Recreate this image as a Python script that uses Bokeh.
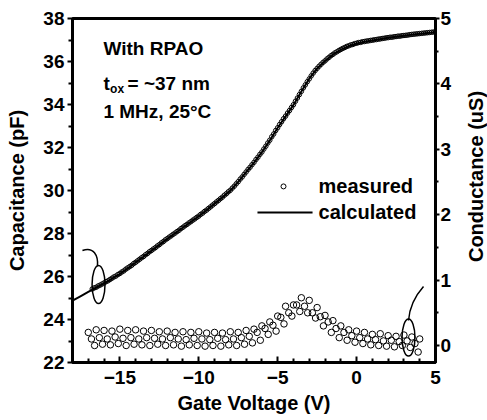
import math
from bokeh.plotting import figure
from bokeh.layouts import row
from bokeh.models import Range1d, LinearAxis, FixedTicker, Label
from bokeh.core.properties import value
from bokeh.embed import file_html
from bokeh.resources import INLINE

# ---------------- data ----------------
calc_v = [-18.0, -17.5, -17.0, -16.5, -16.0, -15.5, -15.0, -14.5, -14.0, -13.5, -13.0, -12.5,
          -12.0, -11.5, -11.0, -10.5, -10.0, -9.5, -9.0, -8.5, -8.0, -7.5, -7.0, -6.5, -6.0,
          -5.5, -5.0, -4.5, -4.0, -3.5, -3.0, -2.5, -2.0, -1.5, -1.0, -0.5, 0.0, 0.5, 1.0,
          1.5, 2.0, 2.5, 3.0, 3.5, 4.0, 4.5, 5.0]
calc_c = [24.88, 25.08, 25.28, 25.48, 25.68, 25.90, 26.12, 26.38, 26.65, 26.92, 27.20, 27.47,
          27.75, 28.01, 28.28, 28.54, 28.80, 29.08, 29.38, 29.68, 30.00, 30.40, 30.85, 31.30,
          31.78, 32.33, 32.92, 33.45, 33.98, 34.60, 35.20, 35.68, 36.02, 36.32, 36.55, 36.72,
          36.84, 36.92, 36.98, 37.04, 37.10, 37.15, 37.20, 37.25, 37.29, 37.33, 37.37]

meas_v = [-16.75, -16.5, -16.25, -16.0, -15.75, -15.5, -15.25, -15.0, -14.75, -14.5, -14.25,
          -14.0, -13.75, -13.5, -13.25, -13.0, -12.75, -12.5, -12.25, -12.0, -11.75, -11.5,
          -11.25, -11.0, -10.75, -10.5, -10.25, -10.0, -9.75, -9.5, -9.25, -9.0, -8.75, -8.5,
          -8.25, -8.0, -7.75, -7.5, -7.25, -7.0, -6.75, -6.5, -6.25, -6.0, -5.75, -5.5, -5.25,
          -5.0, -4.75, -4.5, -4.25, -4.0, -3.75, -3.5, -3.25, -3.0, -2.75, -2.5, -2.25, -2.0,
          -1.75, -1.5, -1.25, -1.0, -0.75, -0.5, -0.25, 0.0, 0.25, 0.5, 0.75, 1.0, 1.25, 1.5,
          1.75, 2.0, 2.25, 2.5, 2.75, 3.0, 3.25, 3.5, 3.75, 4.0, 4.25, 4.5, 4.75, 5.0]
meas_c = [25.42, 25.50, 25.60, 25.70, 25.80, 25.92, 26.02, 26.14, 26.26, 26.40, 26.52,
          26.66, 26.80, 26.93, 27.07, 27.21, 27.34, 27.48, 27.62, 27.76, 27.89, 28.02,
          28.15, 28.29, 28.42, 28.55, 28.68, 28.81, 28.95, 29.09, 29.24, 29.39, 29.54, 29.69,
          29.85, 30.01, 30.20, 30.41, 30.63, 30.86, 31.08, 31.31, 31.55, 31.79, 32.06, 32.34,
          32.63, 32.92, 33.20, 33.46, 33.72, 33.99, 34.30, 34.61, 34.91, 35.19, 35.46, 35.68,
          35.87, 36.03, 36.19, 36.33, 36.45, 36.56, 36.65, 36.73, 36.79, 36.85, 36.89, 36.93,
          36.96, 36.99, 37.02, 37.05, 37.08, 37.11, 37.13, 37.16, 37.18, 37.21, 37.23, 37.26,
          37.28, 37.30, 37.32, 37.34, 37.36, 37.38]
# second measured sweep
meas2_v = [-16.625, -16.375, -16.125, -15.875, -15.625, -15.375, -15.125, -14.875, -14.625,
           -14.375, -14.125, -13.875, -13.625, -13.375, -13.125, -12.875, -12.625, -12.375,
           -12.125, -11.875, -11.625, -11.375, -11.125, -10.875, -10.625, -10.375, -10.125,
           -9.875, -9.625, -9.375, -9.125, -8.875, -8.625, -8.375, -8.125, -7.875, -7.625,
           -7.375, -7.125, -6.875, -6.625, -6.375, -6.125, -5.875, -5.625, -5.375, -5.125,
           -4.875, -4.625, -4.375, -4.125, -3.875, -3.625, -3.375, -3.125, -2.875, -2.625,
           -2.375, -2.125, -1.875, -1.625, -1.375, -1.125, -0.875, -0.625, -0.375, -0.125,
           0.125, 0.375, 0.625, 0.875, 1.125, 1.375, 1.625, 1.875, 2.125, 2.375, 2.625, 2.875,
           3.125, 3.375, 3.625, 3.875, 4.125, 4.375, 4.625, 4.875]
meas2_c = [25.47, 25.56, 25.65, 25.76, 25.86, 25.98, 26.09, 26.21, 26.34,
           26.46, 26.60, 26.73, 26.87, 27.01, 27.15, 27.28, 27.42, 27.56,
           27.70, 27.83, 27.96, 28.09, 28.23, 28.36, 28.49, 28.62, 28.75,
           28.89, 29.03, 29.17, 29.32, 29.47, 29.62, 29.78, 29.94, 30.11, 30.31,
           30.53, 30.75, 30.98, 31.20, 31.44, 31.68, 31.93, 32.21, 32.50, 32.79,
           33.07, 33.34, 33.60, 33.86, 34.15, 34.46, 34.77, 35.06, 35.33, 35.58,
           35.78, 35.96, 36.12, 36.27, 36.40, 36.51, 36.61, 36.70, 36.77, 36.83,
           36.88, 36.92, 36.95, 36.98, 37.01, 37.04, 37.07, 37.10, 37.13, 37.15, 37.18, 37.20,
           37.22, 37.25, 37.27, 37.29, 37.31, 37.33, 37.35, 37.37]

# conductance (uS), measured points in three interleaved sweeps
g1_v = [-17.0, -16.5, -16.0, -15.5, -15.0, -14.5, -14.0, -13.5, -13.0, -12.5, -12.0, -11.5,
        -11.0, -10.5, -10.0, -9.5, -9.0, -8.5, -8.0, -7.5, -7.0, -6.5, -6.0, -5.5, -5.0,
        -4.5, -4.0, -3.5, -3.0, -2.5, -2.0, -1.5, -1.0, -0.5, 0.0, 0.5, 1.0, 1.5, 2.0, 2.5,
        3.0, 3.5, 4.0]
g1 = [0.20, 0.24, 0.23, 0.22, 0.25, 0.23, 0.24, 0.22, 0.23, 0.21, 0.22, 0.20,
      0.21, 0.20, 0.21, 0.19, 0.20, 0.19, 0.21, 0.20, 0.23, 0.25, 0.30, 0.36, 0.45,
      0.60, 0.62, 0.73, 0.69, 0.58, 0.46, 0.38, 0.30, 0.24, 0.22, 0.20, 0.17, 0.18, 0.15, 0.14,
      0.16, 0.13, 0.10]
g2_v = [-16.8, -16.3, -15.8, -15.3, -14.8, -14.3, -13.8, -13.3, -12.8, -12.3, -11.8, -11.3,
        -10.8, -10.3, -9.8, -9.3, -8.8, -8.3, -7.8, -7.3, -6.8, -6.3, -5.8, -5.3, -4.8,
        -4.3, -3.8, -3.3, -2.8, -2.3, -1.8, -1.3, -0.8, -0.3, 0.2, 0.7, 1.2, 1.7, 2.2, 2.7,
        3.2, 3.7]
g2 = [0.10, 0.12, 0.10, 0.13, 0.11, 0.12, 0.10, 0.12, 0.11, 0.10, 0.12, 0.10,
      0.09, 0.11, 0.10, 0.09, 0.11, 0.09, 0.10, 0.12, 0.14, 0.20, 0.26, 0.31, 0.43,
      0.50, 0.62, 0.60, 0.50, 0.44, 0.36, 0.26, 0.20, 0.15, 0.12, 0.10, 0.09, 0.07, 0.08, 0.06,
      0.07, 0.03]
g3_v = [-16.6, -16.1, -15.6, -15.1, -14.6, -14.1, -13.6, -13.1, -12.6, -12.1, -11.6, -11.1,
        -10.6, -10.1, -9.6, -9.1, -8.6, -8.1, -7.6, -7.1, -6.6, -6.1, -5.6, -5.1, -4.6,
        -4.1, -3.6, -3.1, -2.6, -2.1, -1.6, -1.1, -0.6, -0.1, 0.4, 0.9, 1.4, 1.9, 2.4, 2.9,
        3.4, 3.9]
g3 = [0.00, 0.02, 0.01, 0.03, 0.00, 0.02, 0.01, 0.00, 0.02, 0.00, 0.01, -0.01,
      0.01, 0.00, -0.01, 0.00, -0.01, 0.01, 0.00, 0.02, 0.04, 0.08, 0.17, 0.22, 0.33,
      0.45, 0.52, 0.50, 0.42, 0.30, 0.20, 0.12, 0.08, 0.05, 0.03, 0.01, 0.00, -0.01, -0.02, 0.00,
      -0.03, -0.10]

x_major = [-15, -10, -5, 0, 5]
x_minor = [-17, -16, -14, -13, -12, -11, -9, -8, -7, -6, -4, -3, -2, -1, 1, 2, 3, 4]
c_major = [22, 24, 26, 28, 30, 32, 34, 36, 38]
c_minor = [23, 25, 27, 29, 31, 33, 35, 37]
g_major = [0, 1, 2, 3, 4, 5]
g_minor = [0.5, 1.5, 2.5, 3.5, 4.5]

FONT = "Liberation Sans"
H = 418

p = figure(width=463, height=H, output_backend="svg", toolbar_location=None,
           x_range=Range1d(-18, 5), y_range=Range1d(22, 38),
           min_border_left=72, min_border_right=28, min_border_top=18, min_border_bottom=56)
p.extra_y_ranges = {"g": Range1d(-0.26, 5.0)}
p.xgrid.visible = False
p.ygrid.visible = False
p.outline_line_color = "black"
p.outline_line_width = 3
p.background_fill_color = "white"
p.border_fill_color = "white"

def style(ax, tin, tout, standoff):
    ax.axis_line_width = 3
    ax.axis_line_color = "black"
    ax.major_tick_line_width = 2
    ax.minor_tick_line_width = 2
    ax.major_tick_in = tin[0]
    ax.major_tick_out = tout[0]
    ax.minor_tick_in = tin[1]
    ax.minor_tick_out = tout[1]
    ax.major_label_text_font = FONT
    ax.major_label_text_font_style = "bold"
    ax.major_label_text_font_size = "19px"
    ax.major_label_text_color = "black"
    ax.major_label_standoff = standoff
    ax.axis_label_text_font = FONT
    ax.axis_label_text_font_style = "bold"
    ax.axis_label_text_font_size = "20px"
    ax.axis_label_text_color = "black"

xa = p.xaxis[0]
xa.ticker = FixedTicker(ticks=x_major, minor_ticks=x_minor)
xa.axis_label = "Gate Voltage (V)"
style(xa, (6, 4), (0, 0), 8)
xa.axis_label_standoff = 5

ya = p.yaxis[0]
ya.ticker = FixedTicker(ticks=c_major, minor_ticks=c_minor)
ya.axis_label = "Capacitance (pF)"
style(ya, (0, 0), (5, 4), 3)
ya.axis_label_standoff = 12

ra = LinearAxis(y_range_name="g")
ra.ticker = FixedTicker(ticks=g_major, minor_ticks=g_minor)
style(ra, (0, 0), (4, 3), 1)
p.add_layout(ra, "right")

# ---------------- glyphs ----------------
p.line(calc_v, calc_c, line_color="black", line_width=2)
p.scatter(meas_v, meas_c, marker="circle", size=4.5, fill_color=None,
          line_color="black", line_width=1)
p.scatter(meas2_v, meas2_c, marker="circle", size=4.5, fill_color=None,
          line_color="black", line_width=1)
for gv, gg in ((g1_v, g1), (g2_v, g2), (g3_v, g3)):
    p.scatter(gv, gg, y_range_name="g", marker="circle", size=6.5, fill_color=None,
              line_color="black", line_width=1)

# ellipses and pointer curves
p.ellipse(x=[-16.35], y=[25.63], width=0.82, height=1.77, fill_color=None,
          line_color="black", line_width=1.5)
p.ellipse(x=[3.29], y=[23.16], width=0.82, height=1.72, fill_color=None,
          line_color="black", line_width=1.5)
p.bezier(x0=[-17.37], y0=[27.21], cx0=[-16.67], cy0=[27.40], cx1=[-16.35], cy1=[26.98],
         x1=[-16.42], y1=[26.47], line_color="black", line_width=1.5)
p.bezier(x0=[4.24], y0=[25.54], cx0=[3.67], cy0=[25.07], cx1=[3.35], cy1=[24.61],
         x1=[3.29], y1=[23.95], line_color="black", line_width=1.5)

# legend (manual)
p.scatter([-4.63], [30.19], marker="circle", size=5, fill_color=None, line_color="black",
          line_width=1)
p.segment(x0=[-6.28], y0=[28.98], x1=[-2.79], y1=[28.98], line_color="black", line_width=2)

def lab(x, y, t, size="19px", baseline="alphabetic"):
    p.add_layout(Label(x=x, y=y, text=t, text_font=FONT, text_font_style="bold",
                       text_font_size=size, text_color="black", text_baseline=baseline))

lab(-2.41, 30.19, "measured", "20px", "middle")
lab(-2.41, 28.98, "calculated", "20px", "middle")
lab(-16.04, 36.62, "With RPAO", "19px")
lab(-16.04, 34.98, "t", "19px")
lab(-15.62, 34.70, "ox", "12px")
lab(-14.51, 34.98, "= ~37 nm", "19px")
lab(-16.04, 33.67, "1 MHz, 25\u00b0C", "19px")

# right-hand axis title, reading bottom-to-top as in the original
p2 = figure(width=24, height=H, output_backend="svg", toolbar_location=None,
            x_range=Range1d(0, 1), y_range=Range1d(0, H),
            x_axis_location=None, y_axis_location=None, min_border=0)
p2.xgrid.visible = False
p2.ygrid.visible = False
p2.outline_line_color = None
p2.background_fill_color = "white"
p2.border_fill_color = "white"
p2.text(x=[0.5], y=[H - 192], text=["Conductance (uS)"], angle=math.pi / 2,
        text_align="center", text_baseline="middle", text_font=value(FONT),
        text_font_style="bold", text_font_size="20px", text_color="black")

layout = row(p, p2, spacing=0)
open("out.html", "w").write(file_html(layout, INLINE))
